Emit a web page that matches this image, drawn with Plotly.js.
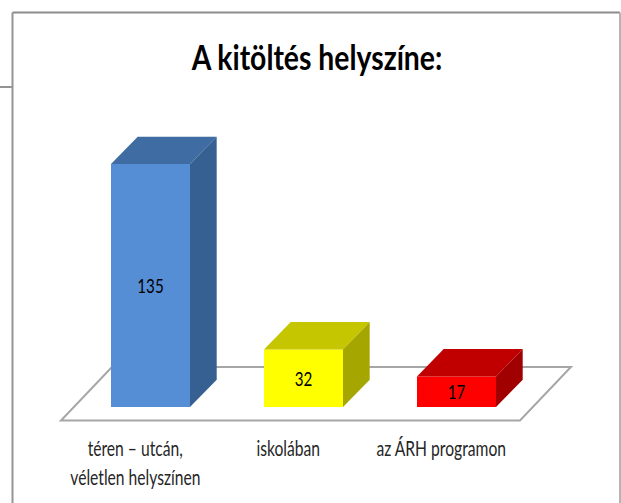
<!DOCTYPE html>
<html>
<head>
<meta charset="utf-8">
<script src="https://cdn.plot.ly/plotly-3.0.1.min.js"></script>
<style>html,body{margin:0;padding:0;background:#fff;overflow:hidden}</style>
</head>
<body>
<div id="chart" style="width:621px;height:503px"></div>
<script>
const categories = ['téren – utcán,', 'iskolában', 'az ÁRH programon'];
const secondLine = ['véletlen helyszínen', '', ''];
const values = [135, 32, 17];
const frontColors = ['#558ed5', '#ffff00', '#ff0000'];
const topColors = ['#3f6ca3', '#c6c600', '#c00000'];
const sideColors = ['#376092', '#a6a600', '#a00000'];
const FONT = 'Lato, "Open Sans", sans-serif';

// plot area in px, y axis 1.8 px per unit, bars 153 px apart
const W = 621, H = 503, plotTop = 120, plotBottom = 425, plotLeft = 20, plotRight = 600;
const pxX = 153, pxY = 1.8, x0Px = 150.5, y0Px = 407;
const xRange = [(plotLeft - x0Px) / pxX, (plotRight - x0Px) / pxX];
const yRange = [(y0Px - plotBottom) / pxY, (y0Px - plotTop) / pxY];
const paperX = px => (px - plotLeft) / (plotRight - plotLeft);
const paperY = px => (plotBottom - px) / (plotBottom - plotTop);

const pos = values.map((_, i) => i);
const barW = 79 / pxX;
const dx = 26.7 / pxX, dy = 27.3 / pxY; // oblique depth of the boxes
const labelShift = 0.1;

// top + side faces, from the values
const traces = [];
pos.forEach((p, i) => {
    const l = p - barW / 2, r = p + barW / 2, v = values[i];
    traces.push({
        x: [l, r, r + dx, l + dx, l], y: [v, v, v + dy, v + dy, v],
        type: 'scatter', mode: 'lines', fill: 'toself', fillcolor: topColors[i],
        line: { width: 0 }, hoverinfo: 'skip'
    });
    traces.push({
        x: [r, r + dx, r + dx, r, r], y: [0, dy, v + dy, v, 0],
        type: 'scatter', mode: 'lines', fill: 'toself', fillcolor: sideColors[i],
        line: { width: 0 }, hoverinfo: 'skip'
    });
});

// front faces
traces.push({
    x: pos, y: values, type: 'bar', width: barW,
    marker: { color: frontColors, line: { width: 0 } },
    text: values.map(String), textposition: 'inside', insidetextanchor: 'middle',
    textangle: 0, constraintext: 'none',
    textfont: { family: FONT, size: 19, color: '#000000' }, hoverinfo: 'x+y'
});

const frame = (x0, y0, x1, y1, color) => ({
    type: 'line', xref: 'paper', yref: 'paper', layer: 'above',
    x0: paperX(x0), x1: paperX(x1), y0: paperY(y0), y1: paperY(y1),
    line: { color, width: 2 }
});

const layout = {
    width: W, height: H, showlegend: false, autosize: false,
    paper_bgcolor: '#ffffff', plot_bgcolor: 'rgba(0,0,0,0)',
    margin: { l: plotLeft, r: W - plotRight, t: plotTop, b: H - plotBottom, pad: 0 },
    title: {
        text: 'A kitöltés helyszíne:',
        font: { family: FONT, size: 35, weight: 700, color: '#000000' },
        x: 317 / W, xanchor: 'center', y: 1 - 70 / H, yanchor: 'bottom'
    },
    xaxis: {
        range: xRange, showgrid: false, zeroline: false, showline: false,
        tickmode: 'array', tickvals: pos.map(p => p - labelShift), ticktext: categories,
        ticks: '', ticklabelstandoff: 9, tickangle: 0,
        tickfont: { family: FONT, size: 21, color: '#262626' }
    },
    yaxis: { range: yRange, visible: false, showgrid: false, zeroline: false },
    annotations: secondLine.map((t, i) => ({
        text: t, x: pos[i] - labelShift, xref: 'x', y: paperY(476), yref: 'paper',
        xanchor: 'center', yanchor: 'middle', showarrow: false,
        font: { family: FONT, size: 21, color: '#262626' }
    })).filter(a => a.text),
    shapes: [
        // floor under the boxes
        { type: 'path', xref: 'x', yref: 'y', layer: 'below',
          path: 'M-0.585,-7.5 L2.415,-7.5 L2.748,22.2 L-0.252,22.2 Z',
          fillcolor: '#ffffff', line: { color: '#a6a6a6', width: 2 } },
        frame(12.5, 12.5, 620, 12.5, '#8c8c8c'),
        frame(12.5, 12.5, 12.5, 503, '#949494'),
        frame(620, 12.5, 620, 503, '#b4b4b4'),
        frame(0, 87, 12.5, 87, '#949494')
    ]
};

// no condensed face is installed, so narrow the glyphs to the reference's width
function squeeze(sel, factor) {
    document.querySelectorAll(sel).forEach(t => {
        t.setAttribute('textLength', t.getComputedTextLength() * factor);
        t.setAttribute('lengthAdjust', 'spacingAndGlyphs');
    });
}

Plotly.newPlot('chart', traces, layout, { displayModeBar: false, responsive: false }).then(() => {
    squeeze('#chart .gtitle', 0.81);
    squeeze('#chart .xtick text, #chart .annotation-text', 0.745);
    squeeze('#chart .bartext', 0.8);
});
</script>
</body>
</html>
